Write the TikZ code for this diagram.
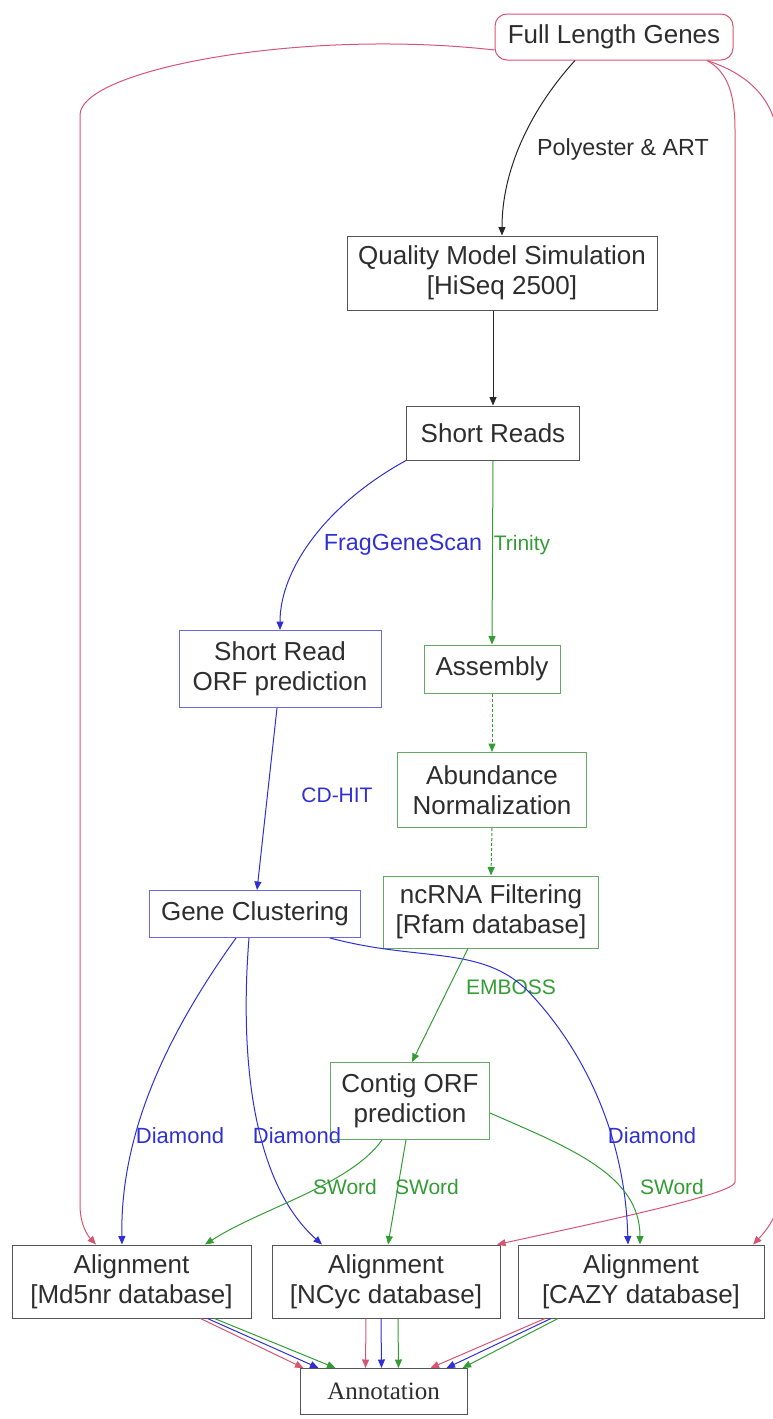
\documentclass[tikz,border=0pt]{standalone}
\usepackage{fontspec}
\setmainfont{Liberation Sans}
\newfontfamily\annfont{Liberation Serif}
\usetikzlibrary{arrows.meta}
\definecolor{pk}{RGB}{214,84,116}
\definecolor{bl}{RGB}{48,48,210}
\definecolor{gr}{RGB}{52,156,52}
\definecolor{bx}{RGB}{85,85,85}
\definecolor{bbx}{RGB}{105,105,220}
\definecolor{gbx}{RGB}{100,170,100}
\definecolor{txt}{RGB}{45,45,45}
\begin{document}
\begin{tikzpicture}[x=1pt,y=-1pt,
  box/.style={draw=bx, line width=1pt, fill=white, inner sep=0pt, align=center,
    font=\fontsize{26}{30}\selectfont, text=txt},
  bbox/.style={box, draw=bbx},
  gbox/.style={box, draw=gbx},
  pbox/.style={box, draw=pk, rounded corners=12pt},
  lab/.style={font=\fontsize{21}{25}\selectfont, inner sep=0pt},
  labbig/.style={font=\fontsize{23.3}{27}\selectfont, inner sep=0pt},
  labmid/.style={font=\fontsize{22}{26}\selectfont, inner sep=0pt},
  tip/.style={-{Triangle[length=8.5pt,width=7pt]}},
  ek/.style={tip, line width=1pt, draw=black!85},
  eb/.style={tip, line width=1pt, draw=bl},
  eg/.style={tip, line width=1pt, draw=gr},
  egd/.style={eg, densely dashed},
  ep/.style={tip, line width=1pt, draw=pk}]
\useasboundingbox (0,0) rectangle (772,1419);

% nodes
\node[pbox, minimum width=238, minimum height=46] (flg) at (614,37) {Full Length Genes};
\node[box, minimum width=310, minimum height=74] (qms) at (502,273) {Quality Model Simulation\\{[}HiSeq 2500{]}};
\node[box, minimum width=173, minimum height=54] (sr) at (493,433) {Short Reads};
\node[bbox, minimum width=202, minimum height=77] (srorf) at (280,669) {Short Read\\ORF prediction};
\node[gbox, minimum width=136, minimum height=48] (asm) at (492,669) {Assembly};
\node[gbox, minimum width=189, minimum height=75] (abn) at (492,790) {Abundance\\Normalization};
\node[bbox, minimum width=211, minimum height=47] (gc) at (255,914) {Gene Clustering};
\node[gbox, minimum width=215, minimum height=72] (nc) at (491,912) {ncRNA Filtering\\{[}Rfam database{]}};
\node[gbox, minimum width=159, minimum height=77] (co) at (410,1101) {Contig ORF\\prediction};
\node[box, minimum width=239, minimum height=73] (md) at (131.5,1281.5) {Alignment\\{[}Md5nr database{]}};
\node[box, minimum width=228, minimum height=73] (ncy) at (386,1281.5) {Alignment\\{[}NCyc database{]}};
\node[box, minimum width=246, minimum height=73] (caz) at (641,1281.5) {Alignment\\{[}CAZY database{]}};
\node[box, minimum width=167, minimum height=46, font=\annfont\fontsize{25}{30}\selectfont] (ann) at (383.5,1391.5) {Annotation};

% labels
\node[labbig, text=txt] (lpol) at (623,149) {Polyester \& ART};
\node[labbig, text=bl] (lfgs) at (403,545) {FragGeneScan};
\node[lab, text=gr] (ltri) at (522,545) {Trinity};
\node[lab, text=bl] (lcdh) at (337,795) {CD-HIT};
\node[lab, text=gr] (lemb) at (511,987) {EMBOSS};
\node[labmid, text=bl] (ld1) at (180,1136) {Diamond};
\node[labmid, text=bl] (ld2) at (297,1136) {Diamond};
\node[labmid, text=bl] (ld3) at (652,1136) {Diamond};
\node[lab, text=gr] (ls1) at (345,1187) {SWord};
\node[lab, text=gr] (ls2) at (427,1187) {SWord};
\node[lab, text=gr] (ls3) at (672,1187) {SWord};

% black edges
\draw[ek] ([xshift=-39pt]flg.south) .. controls (530,110) and (502,170) .. (qms.north);
\draw[ek] ([xshift=-9pt]qms.south) -- (sr.north);

% pink edges
\draw[ep] ([yshift=-13pt]flg.west) .. controls (300,28) and (80,70) .. (80,115)
   -- (80,1205) .. controls (80,1225) and (88,1236) .. ([xshift=-35.5pt]md.north);
\draw[ep] ([xshift=93pt]flg.south) .. controls (728,72) and (735,95) .. (735,130)
   -- (735,1182) .. controls (735,1194) and (600,1222) .. ([xshift=111pt]ncy.north);
\draw[ep] ([xshift=93pt]flg.south) .. controls (760,78) and (780,110) .. (780,160)
   -- (780,1190) .. controls (780,1215) and (765,1232) .. ([xshift=112pt]caz.north);

% blue edges
\draw[eb] (sr.south west) .. controls (325,505) and (280,570) .. (srorf.north);
\draw[eb] ([xshift=-3pt]srorf.south) -- ([xshift=2pt]gc.north);
\draw[eb] ([xshift=-19pt]gc.south) .. controls (170,1030) and (120,1130) .. ([xshift=-9.5pt]md.north);
\draw[eb] ([xshift=-6pt]gc.south) .. controls (240,1050) and (250,1180) .. ([xshift=-64pt]ncy.north);
\draw[eb] ([xshift=75pt]gc.south) .. controls (420,962) and (480,945) .. (527,990)
   .. controls (580,1045) and (625,1130) .. ([xshift=-13pt]caz.north);

% green edges
\draw[eg] (sr.south) -- (asm.north);
\draw[egd] (asm.south) -- (abn.north);
\draw[egd] (abn.south) -- (nc.north);
\draw[eg] ([xshift=-23pt]nc.south) -- ([xshift=2pt]co.north);
\draw[eg] ([xshift=-28pt]co.south) .. controls (350,1185) and (262,1208) .. ([xshift=73.5pt]md.north);
\draw[eg] ([xshift=-4pt]co.south) -- ([xshift=2pt]ncy.north);
\draw[eg] ([yshift=-12pt]co.east) .. controls (570,1148) and (640,1175) .. ([xshift=-1pt]caz.north);

% to annotation
\draw[ep] ([xshift=69pt]md.south) -- ([xshift=-80pt]ann.north);
\draw[eb] ([xshift=76pt]md.south) -- ([xshift=-65pt]ann.north);
\draw[eg] ([xshift=83pt]md.south) -- ([xshift=-48pt]ann.north);
\draw[ep] ([xshift=-20pt]ncy.south) -- ([xshift=-18pt]ann.north);
\draw[eb] ([xshift=-5pt]ncy.south) -- ([xshift=-2pt]ann.north);
\draw[eg] ([xshift=12pt]ncy.south) -- ([xshift=15pt]ann.north);
\draw[ep] ([xshift=-96pt]caz.south) -- ([xshift=47pt]ann.north);
\draw[eb] ([xshift=-90pt]caz.south) -- ([xshift=63pt]ann.north);
\draw[eg] ([xshift=-83pt]caz.south) -- ([xshift=79pt]ann.north);
\end{tikzpicture}
\end{document}
